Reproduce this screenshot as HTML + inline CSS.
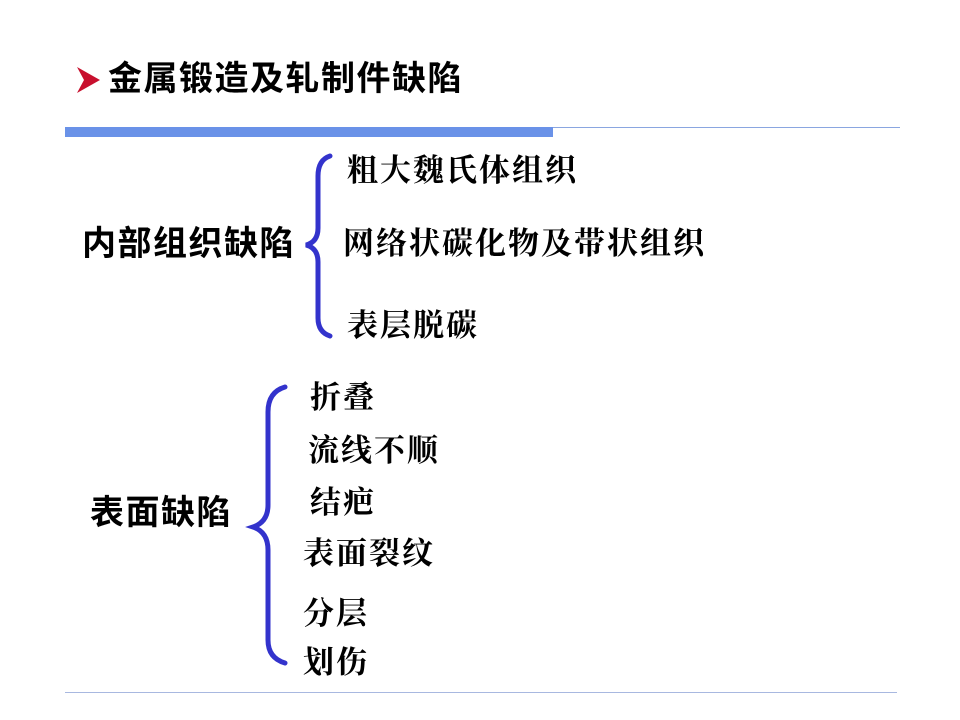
<!DOCTYPE html>
<html><head><meta charset="utf-8"><style>
body{margin:0;width:960px;height:720px;background:#fff;position:relative;overflow:hidden;font-family:"Liberation Sans","Noto Sans CJK SC",sans-serif}
.t{position:absolute;white-space:nowrap;font-weight:700;color:#000;line-height:1}
.s{font-family:"Liberation Serif","Noto Serif CJK SC",serif;font-size:31px;letter-spacing:2px}
</style></head><body>
<svg width="960" height="720" style="position:absolute;left:0;top:0">
<polygon points="77,67 100,80 77,93 84,80" fill="#c8102e"/>
<rect x="65" y="127" width="488" height="10" fill="#6a92e8"/>
<line x1="553" y1="127.5" x2="900" y2="127.5" stroke="#8aa6e0" stroke-width="1"/>
<line x1="65" y1="692.5" x2="897" y2="692.5" stroke="#a8b8e0" stroke-width="1"/>
<path d="M330,156 Q318,160 318,176 L318,228 Q318,242 306,245 Q318,248 318,262 L318,318 Q318,332 330,336" fill="none" stroke="#3333cc" stroke-width="5" stroke-linecap="round"/>
<path d="M285,387 Q268,392 268,412 L268,505 Q268,522 253,527 Q268,532 268,550 L268,640 Q268,658 285,663" fill="none" stroke="#3333cc" stroke-width="5" stroke-linecap="round"/>
</svg>
<div class="t" style="left:108px;top:62px;font-size:34px;letter-spacing:1.5px">金属锻造及轧制件缺陷</div>
<div class="t" style="left:82px;top:227px;font-size:34px;letter-spacing:1.5px">内部组织缺陷</div>
<div class="t" style="left:90px;top:496px;font-size:34px;letter-spacing:1.5px">表面缺陷</div>
<div class="t s" style="left:347px;top:155px">粗大魏氏体组织</div>
<div class="t s" style="left:343px;top:228px">网络状碳化物及带状组织</div>
<div class="t s" style="left:347px;top:310px">表层脱碳</div>
<div class="t s" style="left:310px;top:382px">折叠</div>
<div class="t s" style="left:308px;top:435px">流线不顺</div>
<div class="t s" style="left:310px;top:487px">结疤</div>
<div class="t s" style="left:303px;top:538px">表面裂纹</div>
<div class="t s" style="left:303px;top:598px">分层</div>
<div class="t s" style="left:303px;top:647px">划伤</div>
</body></html>
